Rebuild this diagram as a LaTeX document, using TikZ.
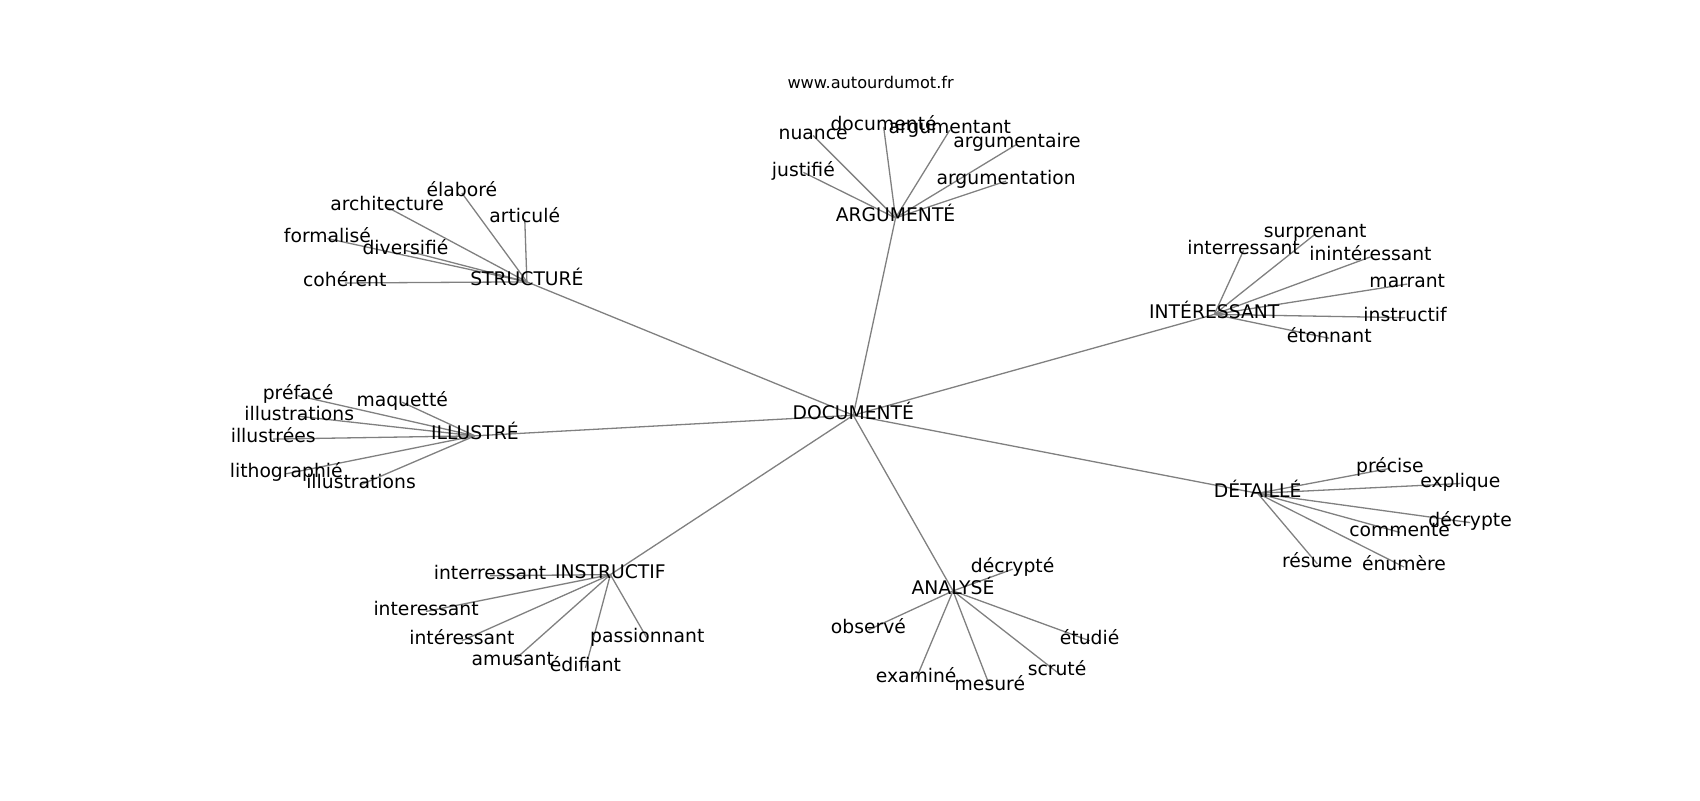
\documentclass[tikz,border=0pt]{standalone}
\usepackage{fontspec}
\setmainfont{DejaVu Sans}
\usetikzlibrary{backgrounds}

\begin{document}
\begin{tikzpicture}[x=1pt,y=-1pt,
    word/.style={inner sep=0pt, text height=0.9em, text depth=0.2em, font=\fontsize{17.3}{20}\selectfont},
    link/.style={draw=black!50, line width=1.2pt}]
    \useasboundingbox (0,0) rectangle (1568,738);
    \node[word, font=\fontsize{14.9}{18}\selectfont] (site) at (803,78) {www.autourdumot.fr};
    % centre and the seven hubs
    \node[word] (doc) at (787,383) {DOCUMENTÉ};
    \node[word] (arg) at (826,201) {ARGUMENTÉ};
    \node[word] (str) at (486,260) {STRUCTURÉ};
    \node[word] (int) at (1120,290) {INTÉRESSANT};
    \node[word] (ill) at (438,402) {ILLUSTRÉ};
    \node[word] (det) at (1160,455) {DÉTAILLÉ};
    \node[word] (ins) at (563,530) {INSTRUCTIF};
    \node[word] (ana) at (879,545) {ANALYSÉ};
    % ARGUMENTÉ
    \node[word] (arg1) at (750,125) {nuance};
    \node[word] (arg2) at (815,117) {documenté};
    \node[word] (arg3) at (876,120) {argumentant};
    \node[word] (arg4) at (938,133) {argumentaire};
    \node[word] (arg5) at (741,159) {justifié};
    \node[word] (arg6) at (928,167) {argumentation};
    % STRUCTURÉ
    \node[word] (str1) at (426,178) {élaboré};
    \node[word] (str2) at (357,191) {architecture};
    \node[word] (str3) at (484,202) {articulé};
    \node[word] (str4) at (302,220) {formalisé};
    \node[word] (str5) at (374,231) {diversifié};
    \node[word] (str6) at (318,261) {cohérent};
    % INTÉRESSANT
    \node[word] (int1) at (1213,216) {surprenant};
    \node[word] (int2) at (1147,231) {interressant};
    \node[word] (int3) at (1264,237) {inintéressant};
    \node[word] (int4) at (1298,262) {marrant};
    \node[word] (int5) at (1296,293) {instructif};
    \node[word] (int6) at (1226,312) {étonnant};
    % ILLUSTRÉ
    \node[word] (ill1) at (275,365) {préfacé};
    \node[word] (ill2) at (371,371) {maquetté};
    \node[word] (ill3) at (276,384) {illustrations};
    \node[word] (ill4) at (252,405) {illustrées};
    \node[word] (ill5) at (264,437) {lithographié};
    \node[word] (ill6) at (333,447) {illustrations};
    % DÉTAILLÉ
    \node[word] (det1) at (1282,432) {précise};
    \node[word] (det2) at (1347,446) {explique};
    \node[word] (det3) at (1356,482) {décrypte};
    \node[word] (det4) at (1291,491) {commente};
    \node[word] (det5) at (1215,520) {résume};
    \node[word] (det6) at (1295,523) {énumère};
    % INSTRUCTIF
    \node[word] (ins1) at (452,531) {interressant};
    \node[word] (ins2) at (393,564) {interessant};
    \node[word] (ins3) at (426,591) {intéressant};
    \node[word] (ins4) at (473,610) {amusant};
    \node[word] (ins5) at (540,616) {édifiant};
    \node[word] (ins6) at (597,589) {passionnant};
    % ANALYSÉ
    \node[word] (ana1) at (934,525) {décrypté};
    \node[word] (ana2) at (801,581) {observé};
    \node[word] (ana3) at (1005,591) {étudié};
    \node[word] (ana4) at (845,626) {examiné};
    \node[word] (ana5) at (913,633) {mesuré};
    \node[word] (ana6) at (975,620) {scruté};
    \begin{scope}[on background layer]
    \draw[link] (doc.center)--(arg.center);
    \draw[link] (doc.center)--(str.center);
    \draw[link] (doc.center)--(int.center);
    \draw[link] (doc.center)--(ill.center);
    \draw[link] (doc.center)--(det.center);
    \draw[link] (doc.center)--(ins.center);
    \draw[link] (doc.center)--(ana.center);
    \draw[link] (arg.center)--(arg1.center);
    \draw[link] (arg.center)--(arg2.center);
    \draw[link] (arg.center)--(arg3.center);
    \draw[link] (arg.center)--(arg4.center);
    \draw[link] (arg.center)--(arg5.center);
    \draw[link] (arg.center)--(arg6.center);
    \draw[link] (str.center)--(str1.center);
    \draw[link] (str.center)--(str2.center);
    \draw[link] (str.center)--(str3.center);
    \draw[link] (str.center)--(str4.center);
    \draw[link] (str.center)--(str5.center);
    \draw[link] (str.center)--(str6.center);
    \draw[link] (int.center)--(int1.center);
    \draw[link] (int.center)--(int2.center);
    \draw[link] (int.center)--(int3.center);
    \draw[link] (int.center)--(int4.center);
    \draw[link] (int.center)--(int5.center);
    \draw[link] (int.center)--(int6.center);
    \draw[link] (ill.center)--(ill1.center);
    \draw[link] (ill.center)--(ill2.center);
    \draw[link] (ill.center)--(ill3.center);
    \draw[link] (ill.center)--(ill4.center);
    \draw[link] (ill.center)--(ill5.center);
    \draw[link] (ill.center)--(ill6.center);
    \draw[link] (det.center)--(det1.center);
    \draw[link] (det.center)--(det2.center);
    \draw[link] (det.center)--(det3.center);
    \draw[link] (det.center)--(det4.center);
    \draw[link] (det.center)--(det5.center);
    \draw[link] (det.center)--(det6.center);
    \draw[link] (ins.center)--(ins1.center);
    \draw[link] (ins.center)--(ins2.center);
    \draw[link] (ins.center)--(ins3.center);
    \draw[link] (ins.center)--(ins4.center);
    \draw[link] (ins.center)--(ins5.center);
    \draw[link] (ins.center)--(ins6.center);
    \draw[link] (ana.center)--(ana1.center);
    \draw[link] (ana.center)--(ana2.center);
    \draw[link] (ana.center)--(ana3.center);
    \draw[link] (ana.center)--(ana4.center);
    \draw[link] (ana.center)--(ana5.center);
    \draw[link] (ana.center)--(ana6.center);
    \end{scope}
\end{tikzpicture}
\end{document}
